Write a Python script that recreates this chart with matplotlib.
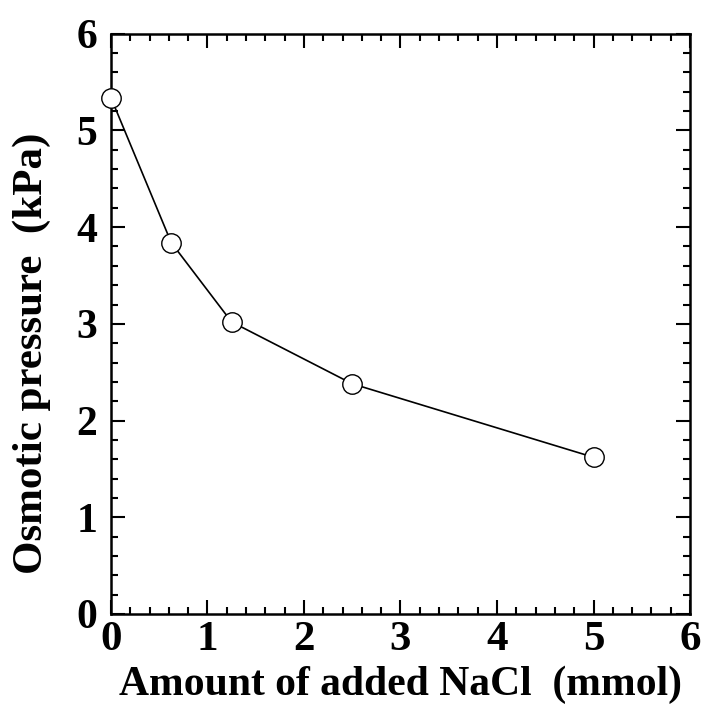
import matplotlib
matplotlib.use("Agg")
import matplotlib.pyplot as plt
from matplotlib.ticker import MultipleLocator

nacl_mmol = [0, 0.625, 1.25, 2.5, 5.0]
osmotic_kpa = [5.34, 3.84, 3.02, 2.38, 1.62]
x_ticks = [0, 1, 2, 3, 4, 5, 6]
y_ticks = [0, 1, 2, 3, 4, 5, 6]

plt.rcParams['font.family'] = ['Liberation Serif', 'DejaVu Serif']
plt.rcParams['font.weight'] = 'bold'

fig = plt.figure(figsize=(7.02, 7.04), dpi=100)
ax = fig.add_axes([0.158, 0.128, 0.825, 0.824])

ax.plot(nacl_mmol, osmotic_kpa, color='black', lw=1.2, marker='o', ms=14,
        mfc='white', mec='black', mew=1.0, clip_on=False, zorder=3)

ax.set_xlim(0, 6)
ax.set_ylim(0, 6)
ax.set_xticks(x_ticks)
ax.set_yticks(y_ticks)
ax.xaxis.set_minor_locator(MultipleLocator(0.2))
ax.yaxis.set_minor_locator(MultipleLocator(0.2))
ax.tick_params(which='both', direction='in', top=True, right=True, width=1.5)
ax.tick_params(which='major', length=10)
ax.tick_params(which='minor', length=5)
ax.tick_params(axis='x', which='major', labelsize=31, pad=5)
ax.tick_params(axis='y', which='major', labelsize=30, pad=10)
for s in ax.spines.values():
    s.set_linewidth(1.8)
for lab in ax.get_xticklabels() + ax.get_yticklabels():
    lab.set_fontweight('bold')

ax.set_xlabel('Amount of added NaCl  (mmol)', fontsize=30, fontweight='bold', labelpad=4.5)
ax.set_ylabel('Osmotic pressure  (kPa)', fontsize=31, fontweight='bold')
ax.yaxis.set_label_coords(-0.103, 0.45)

fig.savefig('out.png', dpi=100)
